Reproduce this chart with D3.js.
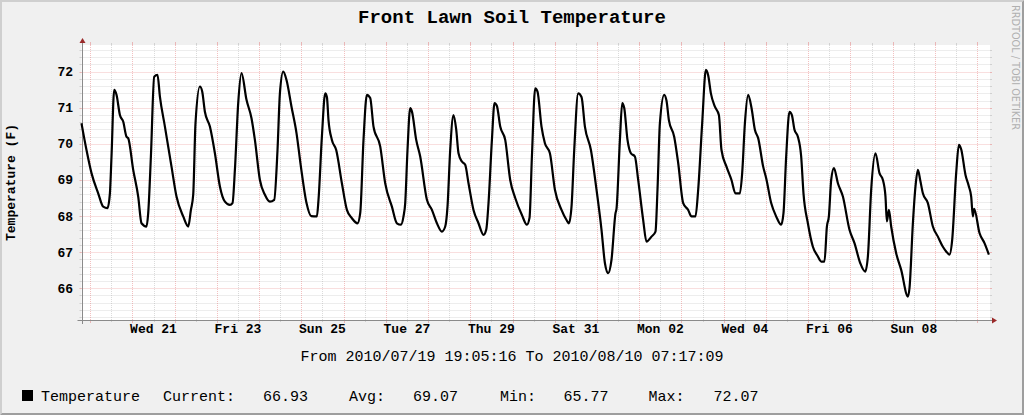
<!DOCTYPE html>
<html><head><meta charset="utf-8">
<script src="https://cdn.jsdelivr.net/npm/d3@7"></script>
<style>
html,body{margin:0;padding:0;background:#f0f0f0;}
svg{display:block;}
</style></head><body>
<svg id="chart" width="1024" height="415"></svg>
<script>
// ---------------- data ----------------
const startTime = "2010-07-19T19:05:16Z";
const endTime   = "2010-08-10T07:17:09Z";

const hoursFromStart = [
  0.0, 2.84, 5.68, 9.49, 12.33, 14.77, 16.14, 17.05, 18.58, 19.89, 21.82, 23.69, 25.57, 26.53, 29.38, 32.22, 34.09, 36.93, 37.90, 39.43,
  41.31, 43.18, 44.55, 47.39, 51.14, 53.98, 57.79, 60.63, 62.16, 63.47, 64.77, 67.27, 68.58, 70.11, 72.96, 75.80, 78.64, 81.48, 84.32, 85.80,
  87.16, 89.04, 90.91, 93.75, 96.59, 98.52, 101.37, 104.21, 107.05, 109.49, 111.37, 112.73, 114.61, 116.48, 119.32, 122.16, 124.66, 127.85, 130.5, 133.75,
  134.66, 136.59, 138.47, 139.43, 140.34, 142.27, 144.72, 147.95, 150.80, 153.64, 156.82, 158.36, 160.23, 162.16, 164.04, 165.91, 169.72, 172.56, 176.37, 179.21,
  181.48, 182.96, 183.93, 185.23, 186.77, 187.73, 190.18, 192.45, 196.26, 199.10, 201.94, 204.78, 206.66, 207.96, 209.49, 211.37, 212.90, 214.21, 216.14, 218.01,
  219.89, 222.73, 225.57, 228.42, 229.95, 231.26, 233.19, 234.67, 236.03, 237.91, 240.75, 243.59, 246.43, 250.24, 253.08, 254.55, 255.92, 257.79, 259.10, 261.37,
  263.30, 266.14, 268.99, 272.74, 275.58, 276.94, 278.42, 279.96, 282.23, 284.10, 286.03, 289.44, 292.62, 295.46, 297.39, 299.27, 301.14, 303.42, 303.98, 305.91,
  307.22, 308.35, 310.23, 312.16, 314.43, 316.30, 319.14, 321.02, 323.86, 326.13, 327.27, 328.63, 331.07, 332.38, 333.74, 336.76, 339.03, 341.87, 344.71, 346.59,
  348.86, 350.39, 352.66, 354.77, 356.07, 357.61, 359.88, 362.15, 363.63, 366.47, 369.31, 371.58, 374.08, 375.39, 376.93, 378.80, 380.68, 382.61, 384.48, 387.32,
  389.03, 391.87, 394.71, 397.55, 398.86, 400.39, 402.27, 403.63, 405.11, 407.04, 408.91, 410.22, 412.72, 415.56, 418.40, 420.28, 422.15, 423.52, 424.65, 425.96,
  427.50, 429.77, 432.61, 436.36, 439.20, 442.44, 445.28, 446.81, 448.69, 451.13, 453.40, 455.34, 456.81, 457.61, 458.75, 460.05, 462.89, 465.73, 469.54, 470.45,
  472.38, 473.86, 475.22, 476.53, 478.06, 480.90, 483.74, 486.59, 489.43, 491.30, 493.18, 494.71, 496.98, 498.52, 499.82, 502.27, 504.20, 505.51, 506.47, 507.20,
  510.23, 513.07, 515.57
];
const temperature = [
  70.57, 69.83, 69.19, 68.63, 68.26, 68.22, 68.63, 69.65, 71.50, 71.36, 70.80, 70.62, 70.20, 70.16, 69.28, 68.54, 67.80, 67.71, 68.08, 69.65,
  71.86, 71.91, 71.31, 70.48, 69.37, 68.54, 67.99, 67.71, 68.17, 68.59, 70.57, 71.59, 71.45, 70.89, 70.48, 69.74, 68.82, 68.40, 68.31, 68.36,
  69.28, 71.13, 71.96, 71.22, 70.71, 70.11, 69.00, 68.59, 68.40, 68.45, 69.83, 71.40, 72.00, 71.77, 71.03, 70.30, 69.37, 68.36, 68.00, 67.99,
  68.45, 70.20, 71.40, 71.30, 70.66, 70.11, 69.83, 68.91, 68.17, 67.94, 67.80, 68.08, 70.11, 71.36, 71.27, 70.48, 69.93, 68.91, 68.26, 67.80,
  67.76, 67.99, 68.36, 69.83, 70.99, 70.90, 70.11, 69.65, 68.45, 68.17, 67.80, 67.57, 67.71, 68.26, 69.83, 70.80, 70.40, 69.74, 69.51, 69.42,
  68.91, 68.17, 67.80, 67.48, 67.62, 68.36, 70.11, 71.13, 71.05, 70.48, 70.11, 69.00, 68.50, 68.03, 67.76, 67.95, 69.65, 71.54, 71.45, 70.48,
  70.02, 69.74, 68.73, 68.17, 67.89, 67.80, 68.26, 69.83, 71.40, 71.30, 70.48, 69.83, 68.73, 67.62, 66.70, 66.42, 66.79, 68.08, 68.20, 70.11,
  71.13, 71.00, 70.11, 69.74, 69.65, 69.00, 67.89, 67.29, 67.43, 67.57, 68.73, 70.57, 71.36, 71.20, 70.66, 70.20, 69.47, 68.36, 68.17, 67.99,
  67.99, 68.73, 70.57, 72.05, 71.90, 71.40, 71.03, 70.80, 69.83, 69.37, 69.00, 68.63, 68.63, 69.19, 70.57, 71.36, 71.00, 70.39, 70.16, 69.37,
  69.05, 68.36, 67.99, 67.76, 68.08, 69.65, 70.89, 70.80, 70.39, 70.20, 69.65, 68.63, 67.80, 67.15, 66.88, 66.74, 66.74, 67.71, 67.99, 69.00,
  69.33, 68.91, 68.54, 67.62, 67.25, 66.70, 66.46, 66.88, 68.73, 69.74, 69.19, 69.00, 68.54, 67.85, 68.17, 67.71, 66.97, 66.51, 65.77, 66.00,
  67.80, 68.82, 69.28, 69.00, 68.63, 68.36, 67.71, 67.43, 67.15, 67.02, 66.93, 67.34, 69.19, 69.97, 69.85, 69.14, 68.82, 68.54, 67.99, 68.20,
  67.53, 67.25, 66.93
];

const yTickValues = [66, 67, 68, 69, 70, 71, 72];
const xLabelDates = ["2010-07-21", "2010-07-23", "2010-07-25", "2010-07-27", "2010-07-29",
                     "2010-07-31", "2010-08-02", "2010-08-04", "2010-08-06", "2010-08-08"];
const xLabelText  = ["Wed 21", "Fri 23", "Sun 25", "Tue 27", "Thu 29",
                     "Sat 31", "Mon 02", "Wed 04", "Fri 06", "Sun 08"];
const legendName   = "Temperature";
const legendLabels = ["Current:", "Avg:", "Min:", "Max:"];
const legendValues = ["66.93", "69.07", "65.77", "72.07"];
const titleText  = "Front Lawn Soil Temperature";
const yAxisTitle = "Temperature (F)";
const periodText = "From 2010/07/19 19:05:16 To 2010/08/10 07:17:09";
const watermark  = "RRDTOOL / TOBI OETIKER";

// ---------------- layout ----------------
const W = 1024, H = 415;
const L = 81.5, R = 990, T = 45, B = 320;
const yDomain = [65.12, 72.74];
const MONO = "'Liberation Mono','DejaVu Sans Mono',monospace";

const svg = d3.select("#chart");
const t0 = new Date(startTime), t1 = new Date(endTime);
const x = d3.scaleUtc().domain([t0, t1]).range([L, R]);
const y = d3.scaleLinear().domain(yDomain).range([B, T]);

// background + 3D border
svg.append("rect").attr("width", W).attr("height", H).attr("fill", "#f0f0f0");
svg.append("path").attr("d", `M0,${H} L0,0 L${W},0 L${W-2},2 L2,2 L2,${H-2} Z`).attr("fill", "#cfcfcf");
svg.append("path").attr("d", `M2,${H-2} L${W-2},${H-2} L${W-2},2 L${W},0 L${W},${H} L0,${H} Z`).attr("fill", "#9e9e9e");

// canvas
svg.append("rect").attr("x", L).attr("y", T).attr("width", R - L).attr("height", B - T).attr("fill", "#ffffff");

const crisp = v => Math.round(v) + 0.5;
const minorCol = "rgba(143,143,143,0.32)";
const majorCol = "rgba(222,79,79,0.36)";
const grid = svg.append("g");

// horizontal grid
const hVals = d3.range(0, 38).map(i => +(65.2 + i * 0.2).toFixed(1)).filter(v => v < yDomain[1]);
hVals.forEach(v => {
  const major = Math.abs(v - Math.round(v)) < 1e-6;
  const yy = crisp(y(v));
  const col = major ? majorCol : minorCol;
  grid.append("line").attr("x1", L).attr("x2", R).attr("y1", yy).attr("y2", yy)
    .attr("stroke", col).attr("stroke-dasharray", "1,1");
  grid.append("line").attr("x1", L - 2).attr("x2", L).attr("y1", yy).attr("y2", yy).attr("stroke", col);
  grid.append("line").attr("x1", R).attr("x2", R + 2).attr("y1", yy).attr("y2", yy).attr("stroke", col);
});

// vertical grid (12h minor, daily major)
d3.utcHour.every(12).range(t0, t1).forEach(d => {
  const major = d.getUTCHours() === 0;
  const xx = crisp(x(d));
  const col = major ? majorCol : minorCol;
  grid.append("line").attr("x1", xx).attr("x2", xx).attr("y1", T).attr("y2", B)
    .attr("stroke", col).attr("stroke-dasharray", "1,1");
  grid.append("line").attr("x1", xx).attr("x2", xx).attr("y1", B).attr("y2", B + (major ? 3 : 2)).attr("stroke", col);
  grid.append("line").attr("x1", xx).attr("x2", xx).attr("y1", T - (major ? 3 : 2)).attr("y2", T).attr("stroke", col);
});

// axes
const axisCol = "#8a8a8a";
svg.append("line").attr("x1", L - 4).attr("x2", R + 4).attr("y1", B + 0.5).attr("y2", B + 0.5).attr("stroke", axisCol);
svg.append("line").attr("x1", crisp(L)).attr("x2", crisp(L)).attr("y1", B + 4).attr("y2", T - 4).attr("stroke", axisCol);
svg.append("path").attr("d", `M${R+2},${B-2.5} L${R+2},${B+3.5} L${R+7},${B+0.5} Z`).attr("fill", "#9a2a2a");
svg.append("path").attr("d", `M${crisp(L)-3},${T-2} L${crisp(L)+3},${T-2} L${crisp(L)},${T-7} Z`).attr("fill", "#9a2a2a");

// y tick labels
svg.append("g").selectAll("text").data(yTickValues).join("text")
  .attr("x", 73).attr("y", d => y(d) + 4.5)
  .attr("text-anchor", "end").attr("font-family", MONO).attr("font-weight", "bold")
  .attr("font-size", "13px").attr("fill", "#000").text(d => d);

// x labels (centered on noon of the labelled day)
svg.append("g").selectAll("text").data(xLabelDates).join("text")
  .attr("x", d => x(d3.utcHour.offset(new Date(d + "T00:00:00Z"), 12)))
  .attr("y", 333).attr("text-anchor", "middle").attr("font-family", MONO).attr("font-weight", "bold")
  .attr("font-size", "13px").attr("fill", "#000").text((d, i) => xLabelText[i]);

// data line
const data = hoursFromStart.map((h, i) => ({ t: new Date(t0.getTime() + h * 3600e3), v: temperature[i] }));
svg.append("path").datum(data)
  .attr("d", d3.line().curve(d3.curveMonotoneX).x(d => x(d.t)).y(d => y(d.v)))
  .attr("fill", "none").attr("stroke", "#000").attr("stroke-width", 2.2).attr("stroke-linejoin", "round");

// title
svg.append("text").attr("x", 512).attr("y", 23).attr("text-anchor", "middle")
  .attr("font-family", MONO).attr("font-weight", "bold").attr("font-size", "19px").text(titleText);

// y axis title
svg.append("text").attr("transform", `translate(15,${(T + B) / 2}) rotate(-90)`)
  .attr("text-anchor", "middle").attr("font-family", MONO).attr("font-weight", "bold")
  .attr("font-size", "13px").text(yAxisTitle);

// watermark
svg.append("text").attr("transform", "translate(1012,5) rotate(90)")
  .attr("font-family", "'DejaVu Sans',sans-serif").attr("font-size", "10px").attr("fill", "#b0b0b0")
  .attr("textLength", 125).attr("lengthAdjust", "spacingAndGlyphs").text(watermark);

// period
svg.append("text").attr("x", 512).attr("y", 361).attr("text-anchor", "middle")
  .attr("font-family", MONO).attr("font-size", "15px").text(periodText);

// legend
svg.append("rect").attr("x", 22).attr("y", 390).attr("width", 11).attr("height", 11).attr("fill", "#000");
const lg = svg.append("g").attr("font-family", MONO).attr("font-size", "15px").attr("fill", "#000");
lg.append("text").attr("x", 41).attr("y", 401).text(legendName);
const labelX = [163, 349, 500, 648.5];
const valueX = [263, 413, 563.5, 713.5];
legendLabels.forEach((s, i) => {
  lg.append("text").attr("x", labelX[i]).attr("y", 401).text(s);
  lg.append("text").attr("x", valueX[i]).attr("y", 401).text(legendValues[i]);
});
</script>
</body></html>
